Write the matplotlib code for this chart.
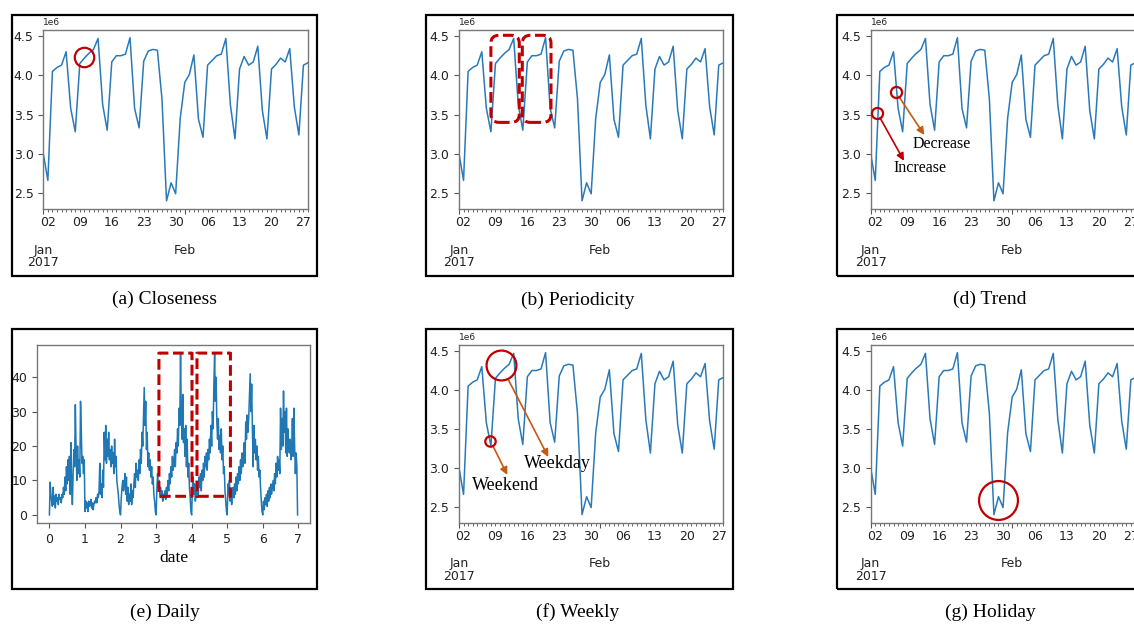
import numpy as np
import pandas as pd
import matplotlib
matplotlib.use("Agg")
import matplotlib.pyplot as plt
import matplotlib.dates as mdates
from matplotlib.ticker import FuncFormatter, MultipleLocator
from matplotlib.patches import Rectangle, FancyBboxPatch

# daily total flow, 2017-01-01 .. 2017-02-28 (millions)
flow_m = [3.00, 2.66, 4.05, 4.10, 4.13, 4.30, 3.58, 3.28, 4.15, 4.22,
          4.28, 4.33, 4.47, 3.63, 3.30, 4.17, 4.25, 4.25, 4.27, 4.48,
          3.58, 3.33, 4.18, 4.31, 4.33, 4.32, 3.70, 2.40, 2.63, 2.49,
          3.45,
          3.91, 4.01, 4.26, 3.44, 3.21, 4.13, 4.19, 4.25, 4.27, 4.47,
          3.62, 3.19, 4.08, 4.24, 4.13, 4.17, 4.37, 3.55, 3.19, 4.08,
          4.14, 4.22, 4.17, 4.34, 3.60, 3.24, 4.13, 4.16]
dates = pd.date_range("2017-01-01", periods=len(flow_m), freq="D")
flow = np.array(flow_m) * 1e6

# half-hourly counts over one week
day0 = [0, 9.5, 6, 4, 2.5, 8, 3, 5.5, 2, 6, 4, 5, 3, 6, 4.5, 5,
        3.5, 6, 5, 8, 6, 11, 7, 14, 9, 16, 10, 17, 6, 21, 9, 3,
        12, 19, 14, 32, 19, 10, 20, 12, 16, 11, 33, 25, 15, 17, 12, 16]
day1 = [1, 4, 2, 3.5, 1, 4, 2.5, 3, 4.5, 2, 3.5, 1.5, 3, 4, 3.5, 5,
        3.5, 6, 5, 7, 15, 6, 9, 5, 13, 8, 24, 16, 26, 15, 22, 17,
        24, 16, 19, 14, 20, 15, 18, 12, 22, 14, 17, 10, 8, 6, 3, 1]
day2 = [0, 5, 8, 10, 7, 9, 12, 6, 11, 4, 8, 3, 6, 4, 9, 3,
        7, 5, 9, 12, 8, 15, 11, 13, 10, 16, 12, 19, 15, 24, 20, 29,
        37, 26, 33, 19, 24, 14, 18, 13, 16, 11, 14, 9, 11, 6, 4, 1]
day3 = [0, 7, 12, 8, 10, 6, 8, 5, 7, 4, 6, 5, 7, 4.5, 8, 6,
        10, 7, 12, 9, 14, 11, 17, 13, 15, 19, 14, 21, 18, 25, 20, 31,
        26, 47, 29, 22, 35, 21, 25, 17, 26, 14, 22, 11, 15, 8, 5, 1]
day4 = [0, 8, 11, 6, 9, 4, 7, 5, 9, 6, 11, 8, 12, 7, 13, 10,
        15, 11, 17, 14, 18, 13, 19, 16, 22, 18, 26, 20, 30, 25, 38, 47,
        33, 40, 27, 22, 28, 19, 23, 18, 25, 16, 20, 12, 14, 7, 4, 1]
day5 = [0, 9, 6, 10, 4, 7, 3, 6, 8, 5, 9, 6, 11, 7, 12, 9,
        14, 10, 16, 12, 18, 14, 17, 21, 15, 27, 22, 29, 24, 28, 35, 41,
        30, 38, 25, 14, 26, 18, 22, 16, 20, 13, 17, 11, 13, 8, 4, 1]
day6 = [0, 4, 1.5, 5, 3, 6, 2.5, 7, 4, 8, 5, 9, 6, 8, 10, 7,
        12, 9, 15, 11, 17, 13, 16, 12, 31, 19, 28, 20, 36, 24, 30, 18,
        31, 17, 25, 19, 18, 22, 16, 19, 28, 17, 31, 20, 12, 18, 14, 0]
week = np.array(day0 + day1 + day2 + day3 + day4 + day5 + day6, dtype=float)
week_t = np.arange(len(week)) / 48.0

W, H = 1134, 625
RED = "#c00000"
ORANGE = "#c55a11"
BLUE = "#2a7ab9"
SERIF = "Liberation Serif"

fig = plt.figure(figsize=(W / 100, H / 100), dpi=100)


def px_axes(l, t, r, b):
    return fig.add_axes([l / W, 1 - b / H, (r - l) / W, (b - t) / H])


def frame(l, t, r, b):
    fig.add_artist(Rectangle((l / W, 1 - b / H), (r - l) / W, (b - t) / H,
                             transform=fig.transFigure, fill=False,
                             lw=1.6, ec="black"))


def caption(x, y, s):
    fig.text(x / W, 1 - y / H, s, ha="center", va="center",
             fontsize=14, family=SERIF)


def jan(d):
    # day number counted from Jan 1 (Feb 1 = 32)
    return mdates.date2num(pd.Timestamp("2017-01-01")) + d - 1


def style(ax):
    for s in ax.spines.values():
        s.set_color("#777777")
        s.set_linewidth(1.0)
    ax.tick_params(which="major", labelsize=9, length=3.5, width=0.8,
                   color="#555555", labelcolor="#222222")
    ax.tick_params(which="minor", labelsize=9, length=2, width=0.6,
                   color="#555555", labelcolor="#222222")


def month_label(x, pos):
    dt = mdates.num2date(x)
    if dt.month == 1:
        return dt.strftime("\n\n%b\n%Y")
    return dt.strftime("\n\n%b")


def day_label(x, pos):
    dt = mdates.num2date(x)
    return dt.strftime("%d") if dt.weekday() == 0 else ""


def flow_panel(l, t, r, b):
    ax = px_axes(l, t, r, b)
    ax.plot(dates, flow, color=BLUE, lw=1.1)
    ax.set_xlim(dates[0], dates[-1])
    ax.xaxis.set_major_locator(mdates.MonthLocator())
    ax.xaxis.set_major_formatter(FuncFormatter(month_label))
    ax.xaxis.set_minor_locator(mdates.DayLocator())
    ax.xaxis.set_minor_formatter(FuncFormatter(day_label))
    style(ax)
    for tk in ax.xaxis.get_major_ticks():
        tk.label1.set_linespacing(0.95)
    ax.yaxis.get_offset_text().set_fontsize(6.5)
    return ax


def rbox(ax, x0, y0, x1, y1, r_px=8):
    p0 = ax.transData.transform((x0, y0))
    p1 = ax.transData.transform((x1, y1))
    sx = (p1[0] - p0[0]) / (x1 - x0)
    sy = (p1[1] - p0[1]) / (y1 - y0)
    ax.add_patch(FancyBboxPatch((x0, y0), x1 - x0, y1 - y0,
                                boxstyle=f"round,pad=0,rounding_size={r_px / sx}",
                                mutation_aspect=sx / sy, fill=False, ec=RED,
                                lw=2.2, ls=(0, (3.5, 1.5)), clip_on=False,
                                zorder=5))


def ring(ax, x, y, ms, mew=1.6):
    ax.plot([x], [y], "o", ms=ms, mfc="none", mec=RED, mew=mew,
            clip_on=False, zorder=5)


def arrow(ax, start, end, color, shrink):
    ax.annotate("", xy=end, xytext=start,
                arrowprops=dict(arrowstyle="-|>", color=color, lw=1.2,
                                shrinkA=shrink, shrinkB=0, mutation_scale=11))


# frames and captions
frame(12, 15, 317, 276)
frame(426, 15, 733, 276)
frame(837, 15, 1144, 276)
frame(12, 329, 317, 589)
frame(426, 329, 733, 589)
frame(837, 329, 1144, 589)

caption(165, 299, "(a) Closeness")
caption(578, 300, "(b) Periodicity")
caption(990, 299, "(d) Trend")
caption(165, 612, "(e) Daily")
caption(578, 612, "(f) Weekly")
caption(990, 612, "(g) Holiday")

# (a) Closeness
ax_a = flow_panel(43.3, 29.5, 308, 209)
ring(ax_a, jan(10), 4.23e6, 14)

# (b) Periodicity
ax_b = flow_panel(459, 29.5, 723.3, 209)
rbox(ax_b, jan(8.0), 3.40e6, jan(14.23), 4.51e6)
rbox(ax_b, jan(14.89), 3.40e6, jan(21.19), 4.51e6)

# (d) Trend
ax_d = flow_panel(870.7, 29.5, 1135.4, 209)
ring(ax_d, jan(2.45), 3.52e6, 8)
ring(ax_d, jan(6.48), 3.79e6, 8)
arrow(ax_d, (jan(2.45), 3.52e6), (jan(8.3), 2.91e6), RED, 4)
arrow(ax_d, (jan(6.48), 3.79e6), (jan(12.75), 3.24e6), ORANGE, 4)
ax_d.text(jan(10.2), 3.13e6, "Decrease", family=SERIF, fontsize=11.5,
          va="center", ha="left")
ax_d.text(jan(5.9), 2.82e6, "Increase", family=SERIF, fontsize=11.5,
          va="center", ha="left")

# (e) Daily
ax_e = px_axes(37, 345, 310, 523)
ax_e.plot(week_t, week, color="#1f77b4", lw=1.1)
ax_e.xaxis.set_major_locator(MultipleLocator(1))
style(ax_e)
ax_e.set_xlabel("date", family=SERIF, fontsize=12.5, labelpad=3)
rbox(ax_e, 3.08, 5.4, 4.01, 47)
rbox(ax_e, 4.15, 5.4, 5.09, 47)

# (f) Weekly
ax_f = flow_panel(459, 344.5, 723.3, 522.7)
ring(ax_f, jan(10.2), 4.316e6, 21.5)
ring(ax_f, jan(7.87), 3.35e6, 7.5)
arrow(ax_f, (jan(7.87), 3.35e6), (jan(11.6), 2.91e6), ORANGE, 4)
arrow(ax_f, (jan(10.2), 4.316e6), (jan(20.6), 3.14e6), ORANGE, 11.5)
ax_f.text(jan(15.26), 3.06e6, "Weekday", family=SERIF, fontsize=13,
          va="center", ha="left")
ax_f.text(jan(3.79), 2.77e6, "Weekend", family=SERIF, fontsize=13,
          va="center", ha="left")

# (g) Holiday
ax_g = flow_panel(870.7, 344.5, 1135.4, 522.7)
ring(ax_g, jan(28.85), 2.59e6, 28)

fig.savefig("out.png", dpi=100)
